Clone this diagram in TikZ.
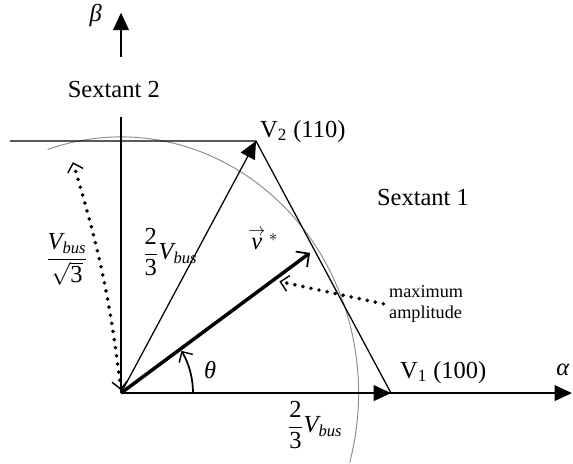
\documentclass[tikz,border=0pt]{standalone}
\usepackage{fontspec}
\setmainfont{Liberation Serif}
\usetikzlibrary{arrows.meta}

\newcommand{\Vbus}{\mbox{\itshape V}_{\mbox{\fontsize{10.5}{12}\selectfont\itshape bus}}}
\newcommand{\twothirds}{\frac{\mbox{2}}{\mbox{3}}}

\begin{document}
\begin{tikzpicture}[x=1cm,y=1.078cm,line width=0.8pt,font=\fontsize{15.5}{18}\selectfont,
  solidhead/.style={-{Triangle[length=11pt,width=10pt]}},
  openhead/.style={-{Straight Barb[length=5pt,width=10pt,line width=0.9pt]}},
  twoheads/.style={{Straight Barb[length=5pt,width=10pt,line width=0.9pt]}-{Straight Barb[length=5pt,width=10pt,line width=0.9pt]}},
  dotline/.style={line width=2.5pt,dash pattern=on 0pt off 5.2pt,line cap=round}]

\useasboundingbox (-2.689,-1.443) rectangle (10.044,8.103);

\coordinate (O) at (0,0);
\coordinate (V1) at (6,0);
\coordinate (V2) at (3,5.196);
\coordinate (alphaend) at (10.02,0);
\coordinate (topleft) at (-2.47,5.196);
\coordinate (betalow) at (0,5.69);
\coordinate (betastart) at (0,6.93);
\coordinate (betaend) at (0,7.84);
\coordinate (vstar) at (4.2,2.89);
\coordinate (radlow) at (0,0.06);
\coordinate (radtop) at (-1.07,4.76);
\coordinate (maxtip) at (3.52,2.3);

\draw[black!45,line width=0.6pt] (108:5.28) arc[start angle=108,end angle=-15.8,radius=5.28];

\draw (topleft) -- (V2) -- (V1);
\draw (O) -- (betalow);
\draw[solidhead] (betastart) -- (betaend);
\draw[solidhead] (O) -- (alphaend);
\draw[solidhead] (O) -- (V1);
\draw[solidhead] (O) -- (V2);
\draw[line width=2.2pt,-{Straight Barb[length=6pt,width=12pt,line width=1.1pt]}] (O) -- (vstar);
\draw[line width=1.1pt,openhead] (1.6,0) arc[start angle=0,end angle=33,radius=1.6];

\node (beta) at (-0.56,7.79) {\itshape β};
\node (sextanttwo) at (-0.16,6.25) {Sextant 2};
\node (labelvtwo) at (4.04,5.40) {V\textsubscript{2} (110)};
\node (sextantone) at (6.71,4.04) {Sextant 1};
\node (labelvstar) at (3.16,3.18) {$\stackrel{\rightarrow}{\mbox{\itshape v}}{}^{\!*}$};
\node (labelradius) at (-1.2,2.75) {$\displaystyle\frac{\Vbus}{\sqrt{\mbox{3}}}$};
\node (labelvtwolen) at (1.09,2.91) {$\displaystyle\twothirds\Vbus$};
\node[font=\fontsize{11.5}{13}\selectfont,align=left] (maxamp) at (6.78,1.84) {maximum\\amplitude};
\node (theta) at (1.98,0.47) {\itshape θ};
\node (labelvone) at (7.16,0.43) {V\textsubscript{1} (100)};
\node (alpha) at (9.82,0.47) {\itshape α};
\node (labelvonelen) at (4.31,-0.66) {$\displaystyle\twothirds\Vbus$};

\draw[dotline,twoheads] (radlow) to[bend right=5] (radtop);
\draw[dotline,openhead] (maxamp.west) -- (maxtip);

\end{tikzpicture}
\end{document}
